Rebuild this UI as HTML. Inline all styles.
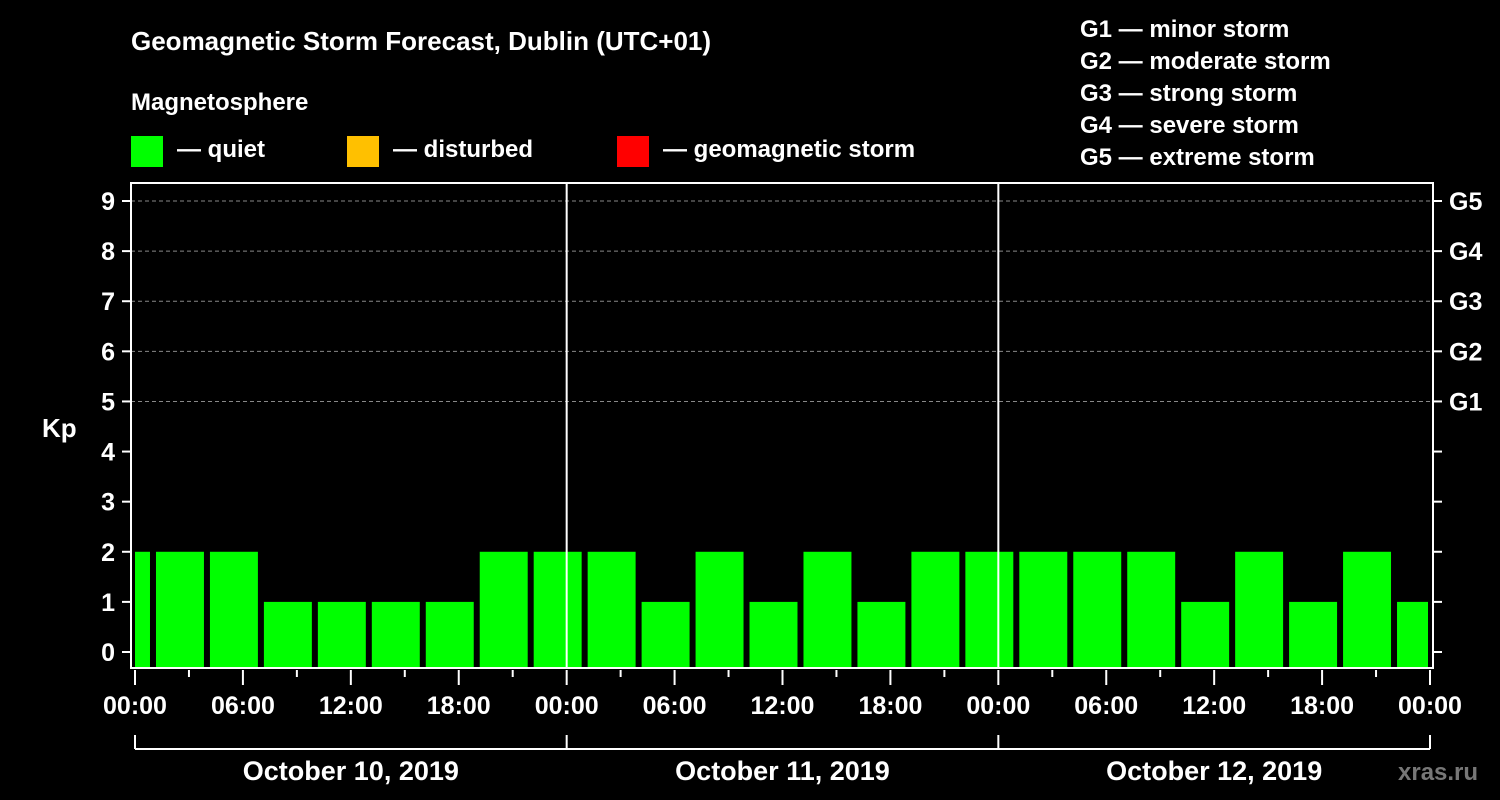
<!DOCTYPE html>
<html><head><meta charset="utf-8"><style>
body{margin:0;background:#000;}
svg{display:block;font-family:"Liberation Sans",sans-serif;font-weight:bold;}
</style></head><body>
<svg id="c" width="1500" height="800" viewBox="0 0 1500 800">
<rect width="1500" height="800" fill="#000"/>
<g fill="#fff">
<text x="131" y="50" font-size="26">Geomagnetic Storm Forecast, Dublin (UTC+01)</text>
<text x="131" y="110" font-size="24">Magnetosphere</text>
<rect x="131" y="136" width="32" height="31" fill="#00ff00"/>
<text x="177" y="157" font-size="24">— quiet</text>
<rect x="347" y="136" width="32" height="31" fill="#ffc000"/>
<text x="393" y="157" font-size="24">— disturbed</text>
<rect x="617" y="136" width="32" height="31" fill="#ff0000"/>
<text x="663" y="157" font-size="24">— geomagnetic storm</text>
<g font-size="24">
<text x="1080" y="37">G1 — minor storm</text>
<text x="1080" y="69">G2 — moderate storm</text>
<text x="1080" y="101">G3 — strong storm</text>
<text x="1080" y="133">G4 — severe storm</text>
<text x="1080" y="165">G5 — extreme storm</text>
</g>
<text x="42" y="437" font-size="26">Kp</text>
<text x="1398" y="780" font-size="24" fill="#777">xras.ru</text>
</g>
<g id="plot"></g>
</svg>
<script>
const kpValues=[2,2,2,1,1,1,1,2,2,2,1,2,1,2,1,2,2,2,2,2,1,2,1,2,1];
const barStartHours=[-2,1,4,7,10,13,16,19,22,25,28,31,34,37,40,43,46,49,52,55,58,61,64,67,70];
const yTicks=[0,1,2,3,4,5,6,7,8,9];
const gLabels=["G1","G2","G3","G4","G5"];
const hourLabels=["00:00","06:00","12:00","18:00"];
const dayLabels=["October 10, 2019","October 11, 2019","October 12, 2019"];
const NS="http://www.w3.org/2000/svg";
const L=131,R=1433,T=183,B=668,X0=135,X1=1430;
const xs=h=>X0+(X1-X0)*h/72;
const ys=v=>652-(652-201)*v/9;
const p=document.getElementById('plot');
function mk(t,a,parent){const e=document.createElementNS(NS,t);for(const k in a)e.setAttribute(k,a[k]);(parent||p).appendChild(e);return e;}
// grid
for(let v=5;v<=9;v++){
 const g=mk('line',{x1:L,x2:R,y1:ys(v),y2:ys(v),stroke:'#888','stroke-dasharray':'4,3','stroke-width':1});
 
 
}
// bars
kpValues.forEach((v,i)=>{
 let a=Math.max(xs(barStartHours[i])+3,X0), b=Math.min(xs(barStartHours[i]+3)-3,X1-2);
 const c=v>=5?'#ff0000':(v>=4?'#ffc000':'#00ff00');
 const r=mk('rect',{x:a,y:ys(v),width:b-a,height:B-ys(v),fill:c});
 
 
});
// day separators
[24,48].forEach(h=>{const l=mk('line',{x1:xs(h),x2:xs(h),y1:T,y2:B,stroke:'#fff','stroke-width':2});
 
 });
// frame
const f=mk('rect',{x:L,y:T,width:R-L,height:B-T,fill:'none',stroke:'#fff','stroke-width':2});


// y ticks
yTicks.forEach(v=>{
 mk('line',{x1:122,x2:L,y1:ys(v),y2:ys(v),stroke:'#fff','stroke-width':2});
 mk('line',{x1:R,x2:R+9,y1:ys(v),y2:ys(v),stroke:'#fff','stroke-width':2});
 const t=mk('text',{x:115,y:ys(v)+9,'font-size':25,fill:'#fff','text-anchor':'end'});
 t.textContent=v;
 
 
});
gLabels.forEach((g,i)=>{
 const t=mk('text',{x:1449,y:ys(5+i)+9,'font-size':25,fill:'#fff'});
 t.textContent=g;
 
 
});
// x ticks
for(let h=0;h<=72;h+=3){
 const long=h%6===0;
 mk('line',{x1:xs(h),x2:xs(h),y1:B+2,y2:B+(long?17:9),stroke:'#fff','stroke-width':2});
 if(long){
  const t=mk('text',{x:xs(h),y:714,'font-size':25,fill:'#fff','text-anchor':'middle'});
  t.textContent=hourLabels[(h/6)%4];
  
  
 }
}
// date bracket
mk('line',{x1:X0,x2:X1,y1:749,y2:749,stroke:'#fff','stroke-width':2});
[0,24,48,72].forEach(h=>mk('line',{x1:xs(h),x2:xs(h),y1:735,y2:749,stroke:'#fff','stroke-width':2}));
dayLabels.forEach((d,i)=>{
 const t=mk('text',{x:xs(24*i+12),y:780,'font-size':27,fill:'#fff','text-anchor':'middle'});
 t.textContent=d;
 
 
});
</script>
</body></html>
